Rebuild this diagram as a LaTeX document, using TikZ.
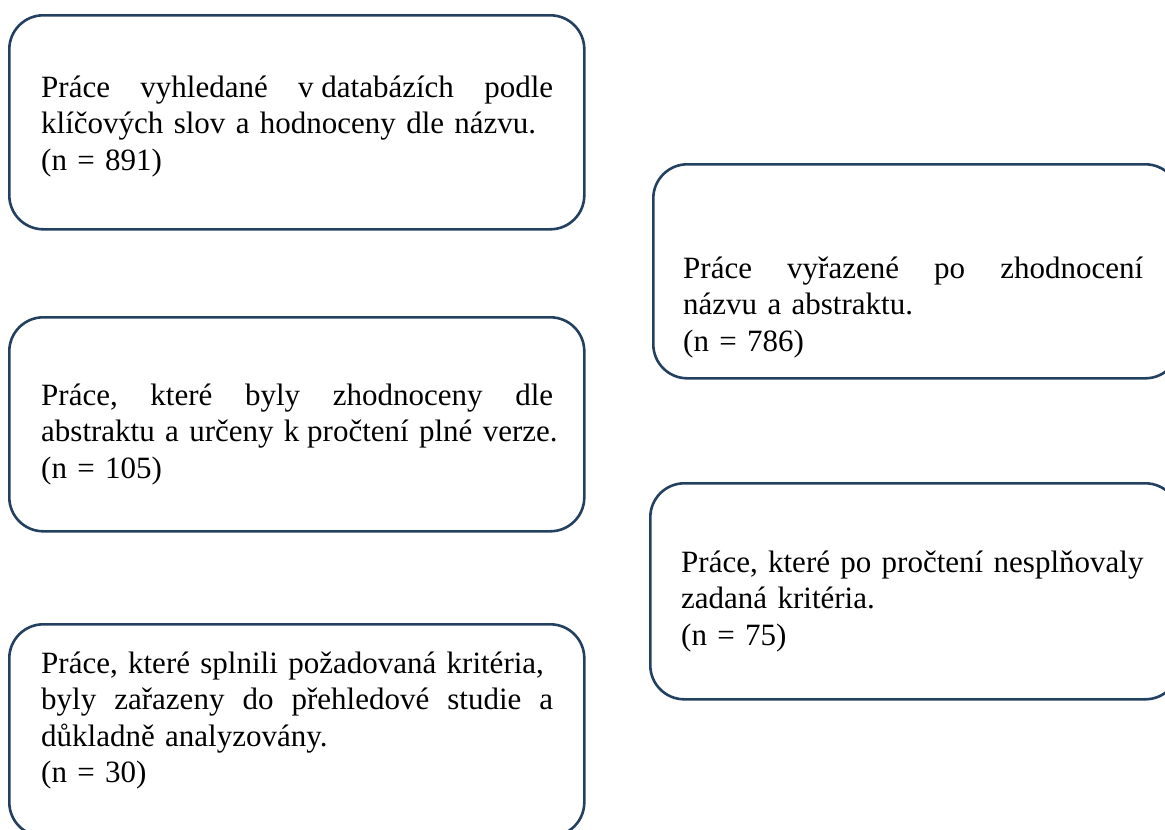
\documentclass[tikz,border=0pt]{standalone}
\usepackage{fontspec}
\setmainfont{Liberation Serif}
\definecolor{boxblue}{RGB}{36,64,97}
\tikzset{
  flowbox/.style={draw=boxblue, line width=2.6pt, rounded corners=34pt, inner sep=0pt, anchor=north west},
  txt/.style={anchor=base west, inner sep=0pt, align=left, font=\fontsize{31}{36.6}\selectfont},
}
\newcommand\jl[1]{\leavevmode\hbox to\linewidth{#1}}
\newcommand\nl[1]{\leavevmode\hbox{#1}}
\begin{document}
\begin{tikzpicture}[x=1pt,y=-1pt]
\useasboundingbox (0,0) rectangle (1165,830);
\clip (0,0) rectangle (1165,830);
% boxes
\node[flowbox, minimum width=575pt, minimum height=214pt] (b1) at (8,14) {};
\node[flowbox, minimum width=575pt, minimum height=214pt] (b2) at (8,316) {};
\node[flowbox, minimum width=575pt, minimum height=212pt] (b3) at (8,623) {};
\node[flowbox, minimum width=526pt, minimum height=214pt] (r1) at (652,163) {};
\node[flowbox, minimum width=529pt, minimum height=216pt] (r2) at (649,482) {};
% texts
\node[txt, text width=512pt] (t1) at (41,97)
  {\jl{Práce\hfill vyhledané\hfill v\kern.25em databázích\hfill podle}\\
   \nl{klíčových slov a hodnoceny dle názvu.}\\
   \nl{(n = 891)}};
\node[txt, text width=512pt] (t2) at (41,405)
  {\jl{Práce,\hfill které\hfill byly\hfill zhodnoceny\hfill dle}\\
   \nl{abstraktu a určeny k\kern.25em pročtení plné verze.}\\
   \nl{(n = 105)}};
\node[txt, text width=512pt] (t3) at (41,673)
  {\jl{Práce, které splnili požadovaná kritéria,}\\
   \jl{byly\hfill zařazeny\hfill do\hfill přehledové\hfill studie\hfill a}\\
   \nl{důkladně analyzovány.}\\
   \nl{(n = 30)}};
\node[txt, text width=460pt] (t4) at (683,278)
  {\jl{Práce\hfill vyřazené\hfill po\hfill zhodnocení}\\
   \nl{názvu a abstraktu.}\\
   \nl{(n = 786)}};
\node[txt, text width=460pt] (t5) at (681,572)
  {\nl{Práce, které po pročtení nesplňovaly}\\
   \nl{zadaná kritéria.}\\
   \nl{(n = 75)}};
\end{tikzpicture}
\end{document}
